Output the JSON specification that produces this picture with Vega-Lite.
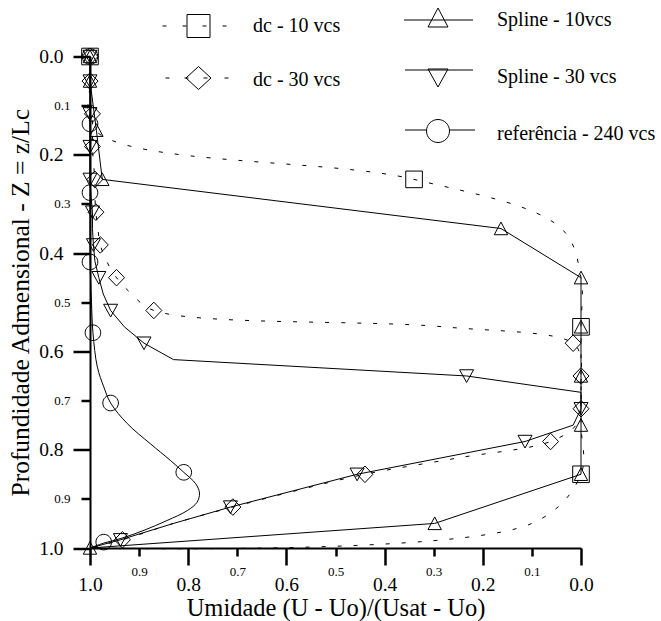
{
  "$schema": "https://vega.github.io/schema/vega-lite/v6.json",
  "width": 491,
  "height": 491.5,
  "autosize": "none",
  "padding": {"left": 90, "top": 56.5, "right": 80, "bottom": 73},
  "background": "white",
  "config": {
    "view": {"stroke": null},
    "font": "Liberation Serif",
    "axis": {"grid": false, "labelOverlap": false, "labelFlush": false, "labelColor": "black", "domainColor": "black", "tickColor": "black", "labelFont": "Liberation Serif"}
  },
  "datasets": {
    "lines": [
      {"s": "dc - 10 vcs", "x": 1.0, "y": 0.0},
      {"s": "dc - 10 vcs", "x": 1.0, "y": 0.05},
      {"s": "dc - 10 vcs", "x": 0.99, "y": 0.15},
      {"s": "dc - 10 vcs", "x": 0.34, "y": 0.25},
      {"s": "dc - 10 vcs", "x": 0.04, "y": 0.35},
      {"s": "dc - 10 vcs", "x": 0.0, "y": 0.45},
      {"s": "dc - 10 vcs", "x": 0.0, "y": 0.55},
      {"s": "dc - 10 vcs", "x": 0.0, "y": 0.65},
      {"s": "dc - 10 vcs", "x": 0.0, "y": 0.75},
      {"s": "dc - 10 vcs", "x": 0.0, "y": 0.85},
      {"s": "dc - 10 vcs", "x": 0.1, "y": 0.95},
      {"s": "dc - 10 vcs", "x": 1.0, "y": 1.0},

      {"s": "dc - 30 vcs", "x": 1.0, "y": 0.0},
      {"s": "dc - 30 vcs", "x": 1.0, "y": 0.0167},
      {"s": "dc - 30 vcs", "x": 1.0, "y": 0.05},
      {"s": "dc - 30 vcs", "x": 1.0, "y": 0.0833},
      {"s": "dc - 30 vcs", "x": 0.995, "y": 0.1167},
      {"s": "dc - 30 vcs", "x": 0.995, "y": 0.15},
      {"s": "dc - 30 vcs", "x": 0.995, "y": 0.1833},
      {"s": "dc - 30 vcs", "x": 0.993, "y": 0.2167},
      {"s": "dc - 30 vcs", "x": 0.99, "y": 0.25},
      {"s": "dc - 30 vcs", "x": 0.99, "y": 0.2833},
      {"s": "dc - 30 vcs", "x": 0.988, "y": 0.3167},
      {"s": "dc - 30 vcs", "x": 0.984, "y": 0.35},
      {"s": "dc - 30 vcs", "x": 0.979, "y": 0.3833},
      {"s": "dc - 30 vcs", "x": 0.966, "y": 0.4167},
      {"s": "dc - 30 vcs", "x": 0.946, "y": 0.45},
      {"s": "dc - 30 vcs", "x": 0.915, "y": 0.4833},
      {"s": "dc - 30 vcs", "x": 0.87, "y": 0.5167},
      {"s": "dc - 30 vcs", "x": 0.28, "y": 0.55},
      {"s": "dc - 30 vcs", "x": 0.016, "y": 0.5833},
      {"s": "dc - 30 vcs", "x": 0.0, "y": 0.6167},
      {"s": "dc - 30 vcs", "x": 0.0, "y": 0.65},
      {"s": "dc - 30 vcs", "x": 0.0, "y": 0.6833},
      {"s": "dc - 30 vcs", "x": 0.0, "y": 0.7167},
      {"s": "dc - 30 vcs", "x": 0.01, "y": 0.75},
      {"s": "dc - 30 vcs", "x": 0.062, "y": 0.7833},
      {"s": "dc - 30 vcs", "x": 0.25, "y": 0.8167},
      {"s": "dc - 30 vcs", "x": 0.44, "y": 0.85},
      {"s": "dc - 30 vcs", "x": 0.58, "y": 0.8833},
      {"s": "dc - 30 vcs", "x": 0.709, "y": 0.9167},
      {"s": "dc - 30 vcs", "x": 0.83, "y": 0.95},
      {"s": "dc - 30 vcs", "x": 0.934, "y": 0.9833},
      {"s": "dc - 30 vcs", "x": 1.0, "y": 1.0},

      {"s": "Spline - 10vcs", "x": 1.0, "y": 0.0},
      {"s": "Spline - 10vcs", "x": 1.0, "y": 0.05},
      {"s": "Spline - 10vcs", "x": 0.987, "y": 0.15},
      {"s": "Spline - 10vcs", "x": 0.975, "y": 0.25},
      {"s": "Spline - 10vcs", "x": 0.163, "y": 0.35},
      {"s": "Spline - 10vcs", "x": 0.0, "y": 0.45},
      {"s": "Spline - 10vcs", "x": 0.0, "y": 0.55},
      {"s": "Spline - 10vcs", "x": 0.0, "y": 0.65},
      {"s": "Spline - 10vcs", "x": 0.0, "y": 0.75},
      {"s": "Spline - 10vcs", "x": 0.0, "y": 0.85},
      {"s": "Spline - 10vcs", "x": 0.298, "y": 0.95},
      {"s": "Spline - 10vcs", "x": 1.0, "y": 1.0},

      {"s": "Spline - 30 vcs", "x": 1.0, "y": 0.0},
      {"s": "Spline - 30 vcs", "x": 1.0, "y": 0.0167},
      {"s": "Spline - 30 vcs", "x": 1.0, "y": 0.05},
      {"s": "Spline - 30 vcs", "x": 1.0, "y": 0.0833},
      {"s": "Spline - 30 vcs", "x": 1.0, "y": 0.1167},
      {"s": "Spline - 30 vcs", "x": 1.0, "y": 0.15},
      {"s": "Spline - 30 vcs", "x": 1.0, "y": 0.1833},
      {"s": "Spline - 30 vcs", "x": 1.0, "y": 0.2167},
      {"s": "Spline - 30 vcs", "x": 1.0, "y": 0.25},
      {"s": "Spline - 30 vcs", "x": 0.998, "y": 0.2833},
      {"s": "Spline - 30 vcs", "x": 0.995, "y": 0.3167},
      {"s": "Spline - 30 vcs", "x": 0.995, "y": 0.35},
      {"s": "Spline - 30 vcs", "x": 0.993, "y": 0.3833},
      {"s": "Spline - 30 vcs", "x": 0.99, "y": 0.4167},
      {"s": "Spline - 30 vcs", "x": 0.982, "y": 0.45},
      {"s": "Spline - 30 vcs", "x": 0.973, "y": 0.4833},
      {"s": "Spline - 30 vcs", "x": 0.958, "y": 0.5167},
      {"s": "Spline - 30 vcs", "x": 0.93, "y": 0.55},
      {"s": "Spline - 30 vcs", "x": 0.89, "y": 0.5833},
      {"s": "Spline - 30 vcs", "x": 0.83, "y": 0.6167},
      {"s": "Spline - 30 vcs", "x": 0.233, "y": 0.65},
      {"s": "Spline - 30 vcs", "x": 0.0, "y": 0.6833},
      {"s": "Spline - 30 vcs", "x": 0.0, "y": 0.7167},
      {"s": "Spline - 30 vcs", "x": 0.016, "y": 0.75},
      {"s": "Spline - 30 vcs", "x": 0.114, "y": 0.7833},
      {"s": "Spline - 30 vcs", "x": 0.285, "y": 0.8167},
      {"s": "Spline - 30 vcs", "x": 0.456, "y": 0.85},
      {"s": "Spline - 30 vcs", "x": 0.585, "y": 0.8833},
      {"s": "Spline - 30 vcs", "x": 0.714, "y": 0.9167},
      {"s": "Spline - 30 vcs", "x": 0.83, "y": 0.95},
      {"s": "Spline - 30 vcs", "x": 0.938, "y": 0.9833},
      {"s": "Spline - 30 vcs", "x": 1.0, "y": 1.0},

      {"s": "referência - 240 vcs", "x": 1.0, "y": 0.0},
      {"s": "referência - 240 vcs", "x": 1.0, "y": 0.1},
      {"s": "referência - 240 vcs", "x": 1.0, "y": 0.2},
      {"s": "referência - 240 vcs", "x": 1.0, "y": 0.3},
      {"s": "referência - 240 vcs", "x": 1.0, "y": 0.4},
      {"s": "referência - 240 vcs", "x": 0.999, "y": 0.45},
      {"s": "referência - 240 vcs", "x": 0.997, "y": 0.5},
      {"s": "referência - 240 vcs", "x": 0.994, "y": 0.562},
      {"s": "referência - 240 vcs", "x": 0.985, "y": 0.632},
      {"s": "referência - 240 vcs", "x": 0.972, "y": 0.672},
      {"s": "referência - 240 vcs", "x": 0.958, "y": 0.705},
      {"s": "referência - 240 vcs", "x": 0.924, "y": 0.747},
      {"s": "referência - 240 vcs", "x": 0.877, "y": 0.788},
      {"s": "referência - 240 vcs", "x": 0.836, "y": 0.822},
      {"s": "referência - 240 vcs", "x": 0.809, "y": 0.846},
      {"s": "referência - 240 vcs", "x": 0.785, "y": 0.869},
      {"s": "referência - 240 vcs", "x": 0.777, "y": 0.888},
      {"s": "referência - 240 vcs", "x": 0.782, "y": 0.907},
      {"s": "referência - 240 vcs", "x": 0.802, "y": 0.924},
      {"s": "referência - 240 vcs", "x": 0.843, "y": 0.944},
      {"s": "referência - 240 vcs", "x": 0.89, "y": 0.964},
      {"s": "referência - 240 vcs", "x": 0.935, "y": 0.98},
      {"s": "referência - 240 vcs", "x": 0.972, "y": 0.99},
      {"s": "referência - 240 vcs", "x": 1.0, "y": 1.0}
    ],
    "markers": [
      {"s": "dc - 10 vcs", "x": 1.0, "y": 0.0},
      {"s": "dc - 10 vcs", "x": 0.34, "y": 0.25},
      {"s": "dc - 10 vcs", "x": 0.0, "y": 0.55},
      {"s": "dc - 10 vcs", "x": 0.0, "y": 0.85},

      {"s": "dc - 30 vcs", "x": 1.0, "y": 0.0},
      {"s": "dc - 30 vcs", "x": 1.0, "y": 0.05},
      {"s": "dc - 30 vcs", "x": 0.995, "y": 0.1167},
      {"s": "dc - 30 vcs", "x": 0.995, "y": 0.1833},
      {"s": "dc - 30 vcs", "x": 0.99, "y": 0.25},
      {"s": "dc - 30 vcs", "x": 0.988, "y": 0.3167},
      {"s": "dc - 30 vcs", "x": 0.979, "y": 0.3833},
      {"s": "dc - 30 vcs", "x": 0.946, "y": 0.45},
      {"s": "dc - 30 vcs", "x": 0.87, "y": 0.5167},
      {"s": "dc - 30 vcs", "x": 0.016, "y": 0.5833},
      {"s": "dc - 30 vcs", "x": 0.0, "y": 0.65},
      {"s": "dc - 30 vcs", "x": 0.0, "y": 0.7167},
      {"s": "dc - 30 vcs", "x": 0.062, "y": 0.7833},
      {"s": "dc - 30 vcs", "x": 0.44, "y": 0.85},
      {"s": "dc - 30 vcs", "x": 0.709, "y": 0.9167},
      {"s": "dc - 30 vcs", "x": 0.934, "y": 0.9833},

      {"s": "Spline - 10vcs", "x": 1.0, "y": 0.0},
      {"s": "Spline - 10vcs", "x": 1.0, "y": 0.05},
      {"s": "Spline - 10vcs", "x": 0.987, "y": 0.15},
      {"s": "Spline - 10vcs", "x": 0.975, "y": 0.25},
      {"s": "Spline - 10vcs", "x": 0.163, "y": 0.35},
      {"s": "Spline - 10vcs", "x": 0.0, "y": 0.45},
      {"s": "Spline - 10vcs", "x": 0.0, "y": 0.55},
      {"s": "Spline - 10vcs", "x": 0.0, "y": 0.65},
      {"s": "Spline - 10vcs", "x": 0.0, "y": 0.75},
      {"s": "Spline - 10vcs", "x": 0.0, "y": 0.85},
      {"s": "Spline - 10vcs", "x": 0.298, "y": 0.95},
      {"s": "Spline - 10vcs", "x": 1.0, "y": 1.0},

      {"s": "Spline - 30 vcs", "x": 1.0, "y": 0.0},
      {"s": "Spline - 30 vcs", "x": 1.0, "y": 0.05},
      {"s": "Spline - 30 vcs", "x": 1.0, "y": 0.1167},
      {"s": "Spline - 30 vcs", "x": 1.0, "y": 0.1833},
      {"s": "Spline - 30 vcs", "x": 1.0, "y": 0.25},
      {"s": "Spline - 30 vcs", "x": 0.995, "y": 0.3167},
      {"s": "Spline - 30 vcs", "x": 0.993, "y": 0.3833},
      {"s": "Spline - 30 vcs", "x": 0.982, "y": 0.45},
      {"s": "Spline - 30 vcs", "x": 0.958, "y": 0.5167},
      {"s": "Spline - 30 vcs", "x": 0.89, "y": 0.5833},
      {"s": "Spline - 30 vcs", "x": 0.233, "y": 0.65},
      {"s": "Spline - 30 vcs", "x": 0.0, "y": 0.7167},
      {"s": "Spline - 30 vcs", "x": 0.114, "y": 0.7833},
      {"s": "Spline - 30 vcs", "x": 0.456, "y": 0.85},
      {"s": "Spline - 30 vcs", "x": 0.714, "y": 0.9167},
      {"s": "Spline - 30 vcs", "x": 0.938, "y": 0.9833},

      {"s": "referência - 240 vcs", "x": 1.0, "y": 0.0},
      {"s": "referência - 240 vcs", "x": 1.0, "y": 0.137},
      {"s": "referência - 240 vcs", "x": 1.0, "y": 0.277},
      {"s": "referência - 240 vcs", "x": 1.0, "y": 0.418},
      {"s": "referência - 240 vcs", "x": 0.994, "y": 0.562},
      {"s": "referência - 240 vcs", "x": 0.958, "y": 0.705},
      {"s": "referência - 240 vcs", "x": 0.809, "y": 0.846},
      {"s": "referência - 240 vcs", "x": 0.972, "y": 0.988}
    ]
  },
  "layer": [
    {
      "data": {"name": "lines"},
      "transform": [{"filter": "indexof(datum.s, 'dc') == 0"}],
      "mark": {"type": "line", "color": "black", "strokeWidth": 1, "strokeDash": [4, 12], "interpolate": "catmull-rom"},
      "encoding": {
        "x": {
          "field": "x", "type": "quantitative",
          "scale": {"domain": [0, 1], "reverse": true, "nice": false, "zero": false},
          "axis": {
            "orient": "bottom",
            "values": [0, 0.2, 0.4, 0.6, 0.8, 1.0],
            "format": ".1f",
            "title": "Umidade (U - Uo)/(Usat - Uo)",
            "titleFont": "Liberation Serif", "titleFontSize": 24.5, "titleFontWeight": "normal", "titleColor": "black",
            "titlePadding": 2,
            "domain": true, "domainWidth": 2,
            "ticks": true, "tickColor": "black", "tickWidth": 2.5, "tickSize": 17, "tickOpacity": 1,
            "labelPadding": 10.5, "labelFontSize": 19.5
          }
        },
        "y": {
          "field": "y", "type": "quantitative",
          "scale": {"domain": [0, 1], "reverse": true, "nice": false, "zero": false},
          "axis": {
            "orient": "left",
            "values": [0, 0.2, 0.4, 0.6, 0.8, 1.0],
            "format": ".1f",
            "title": "Profundidade Admensional - Z = z/Lc",
            "titleFont": "Liberation Serif", "titleFontSize": 25.5, "titleFontWeight": "normal", "titleColor": "black",
            "titlePadding": 5,
            "domain": true, "domainWidth": 2,
            "ticks": true, "tickColor": "black", "tickWidth": 2.5, "tickSize": 17, "tickOpacity": 1,
            "labelPadding": 10, "labelFontSize": 19.5
          }
        },
        "detail": {"field": "s", "type": "nominal"},
        "order": {"field": "y", "type": "quantitative"}
      }
    },
    {
      "data": {"name": "lines"},
      "transform": [{"filter": "indexof(datum.s, 'Spline') == 0"}],
      "mark": {"type": "line", "color": "black", "strokeWidth": 1, "interpolate": "linear"},
      "encoding": {
        "x": {
          "field": "x", "type": "quantitative",
          "scale": {"domain": [0, 1], "reverse": true, "nice": false, "zero": false},
          "axis": {
            "orient": "bottom",
            "values": [0.1, 0.3, 0.5, 0.7, 0.9],
            "format": ".1f",
            "title": null,
            "domain": false,
            "ticks": true, "tickColor": "black", "tickWidth": 2.5, "tickSize": 8, "tickOpacity": 1,
            "labelPadding": 9, "labelFontSize": 13
          }
        },
        "y": {
          "field": "y", "type": "quantitative",
          "scale": {"domain": [0, 1], "reverse": true, "nice": false, "zero": false},
          "axis": {
            "orient": "left",
            "values": [0.1, 0.3, 0.5, 0.7, 0.9],
            "format": ".1f",
            "title": null,
            "domain": false,
            "ticks": true, "tickColor": "black", "tickWidth": 2.5, "tickSize": 9, "tickOpacity": 1,
            "labelPadding": 11, "labelFontSize": 13
          }
        },
        "detail": {"field": "s", "type": "nominal"},
        "order": {"field": "y", "type": "quantitative"}
      }
    },
    {
      "data": {"name": "lines"},
      "transform": [{"filter": "indexof(datum.s, 'ref') == 0"}],
      "mark": {"type": "line", "color": "black", "strokeWidth": 1, "interpolate": "catmull-rom"},
      "encoding": {
        "x": {"field": "x", "type": "quantitative", "scale": {"domain": [0, 1], "reverse": true, "nice": false, "zero": false}, "axis": null},
        "y": {"field": "y", "type": "quantitative", "scale": {"domain": [0, 1], "reverse": true, "nice": false, "zero": false}, "axis": null},
        "detail": {"field": "s", "type": "nominal"},
        "order": {"field": "y", "type": "quantitative"}
      }
    },
    {
      "data": {"name": "markers"},
      "mark": {"type": "point", "filled": false, "color": "black", "strokeWidth": 1, "opacity": 1, "size": 400},
      "encoding": {
        "x": {"field": "x", "type": "quantitative", "scale": {"domain": [0, 1], "reverse": true, "nice": false, "zero": false}, "axis": null},
        "y": {"field": "y", "type": "quantitative", "scale": {"domain": [0, 1], "reverse": true, "nice": false, "zero": false}, "axis": null},
        "shape": {
          "field": "s", "type": "nominal", "legend": null,
          "scale": {
            "domain": ["dc - 10 vcs", "dc - 30 vcs", "Spline - 10vcs", "Spline - 30 vcs", "referência - 240 vcs"],
            "range": [
              "M-0.83,-0.83H0.83V0.83H-0.83Z",
              "M0,-0.83L0.8,0L0,0.83L-0.8,0Z",
              "M0,-0.65L0.67,0.62H-0.67Z",
              "M-0.7,-0.62H0.7L0,0.65Z",
              "M0.78,0C0.78,0.431 0.431,0.78 0,0.78C-0.431,0.78 -0.78,0.431 -0.78,0C-0.78,-0.431 -0.431,-0.78 0,-0.78C0.431,-0.78 0.78,-0.431 0.78,0Z"
            ]
          }
        }
      }
    },
    {
      "data": {"name": "markers"},
      "transform": [{"filter": "false"}],
      "mark": {"type": "point", "filled": false, "color": "black", "strokeWidth": 1, "opacity": 1, "size": 400},
      "encoding": {
        "x": {"field": "x", "type": "quantitative", "scale": {"domain": [0, 1], "reverse": true, "nice": false, "zero": false}, "axis": null},
        "y": {"field": "y", "type": "quantitative", "scale": {"domain": [0, 1], "reverse": true, "nice": false, "zero": false}, "axis": null},
        "shape": {
          "field": "s", "type": "nominal",
          "scale": {
            "domain": ["dc - 10 vcs", "dc - 30 vcs"],
            "range": [
              "M-1.5,-1.5M1.5,1.5M-3.6,0H-3.2M-1.6,0H-1.2M0.4,0H0.8M2.4,0H2.8M-1.15,-1.15H1.15V1.15H-1.15Z",
              "M-1.5,-1.5M1.5,1.5M-3.3,-0.2H-2.9M-1.4,-0.2H-1.0M0.5,-0.2H0.9M2.6,-0.2H3.0M0,-1.35L1.25,-0.2L0,0.95L-1.25,-0.2Z"
            ]
          },
          "legend": {
            "title": null, "orient": "none", "legendX": 98, "legendY": -41,
            "padding": 0, "symbolSize": 400, "symbolStrokeWidth": 1,
            "symbolStrokeColor": "black", "symbolFillColor": "transparent", "symbolOpacity": 1,
            "labelFont": "Liberation Serif", "labelFontSize": 20, "labelColor": "black",
            "labelOffset": 44, "rowPadding": 19, "labelLimit": 0
          }
        }
      }
    },
    {
      "data": {"name": "markers"},
      "transform": [{"filter": "false"}],
      "mark": {"type": "point", "filled": false, "color": "black", "strokeWidth": 1, "opacity": 1, "size": 400},
      "encoding": {
        "x": {"field": "x", "type": "quantitative", "scale": {"domain": [0, 1], "reverse": true, "nice": false, "zero": false}, "axis": null},
        "y": {"field": "y", "type": "quantitative", "scale": {"domain": [0, 1], "reverse": true, "nice": false, "zero": false}, "axis": null},
        "shape": {
          "field": "s", "type": "nominal",
          "scale": {
            "domain": ["Spline - 10vcs", "Spline - 30 vcs", "referência - 240 vcs"],
            "range": [
              "M-1.5,-1.5M1.5,1.5M-3.4,0H3.5M0,-1.2L1,0.7H-1Z",
              "M-1.5,-1.5M1.5,1.5M-3.3,-0.7H3.5M-1,-0.8H1L0,1Z",
              "M-1.5,-1.5M1.5,1.5M-3.3,-0.4H-1.15M1.15,-0.4H3.7M1.15,-0.3C1.15,0.335 0.635,0.85 0,0.85C-0.635,0.85 -1.15,0.335 -1.15,-0.3C-1.15,-0.935 -0.635,-1.45 0,-1.45C0.635,-1.45 1.15,-0.935 1.15,-0.3Z"
            ]
          },
          "legend": {
            "title": null, "orient": "none", "legendX": 337.5, "legendY": -47,
            "padding": 0, "symbolSize": 400, "symbolStrokeWidth": 1,
            "symbolStrokeColor": "black", "symbolFillColor": "transparent", "symbolOpacity": 1,
            "labelFont": "Liberation Serif", "labelFontSize": 20, "labelColor": "black",
            "labelOffset": 48.5, "rowPadding": 22, "labelLimit": 0
          }
        }
      }
    }
  ],
  "resolve": {"scale": {"shape": "independent"}, "axis": {"x": "independent", "y": "independent"}}
}
